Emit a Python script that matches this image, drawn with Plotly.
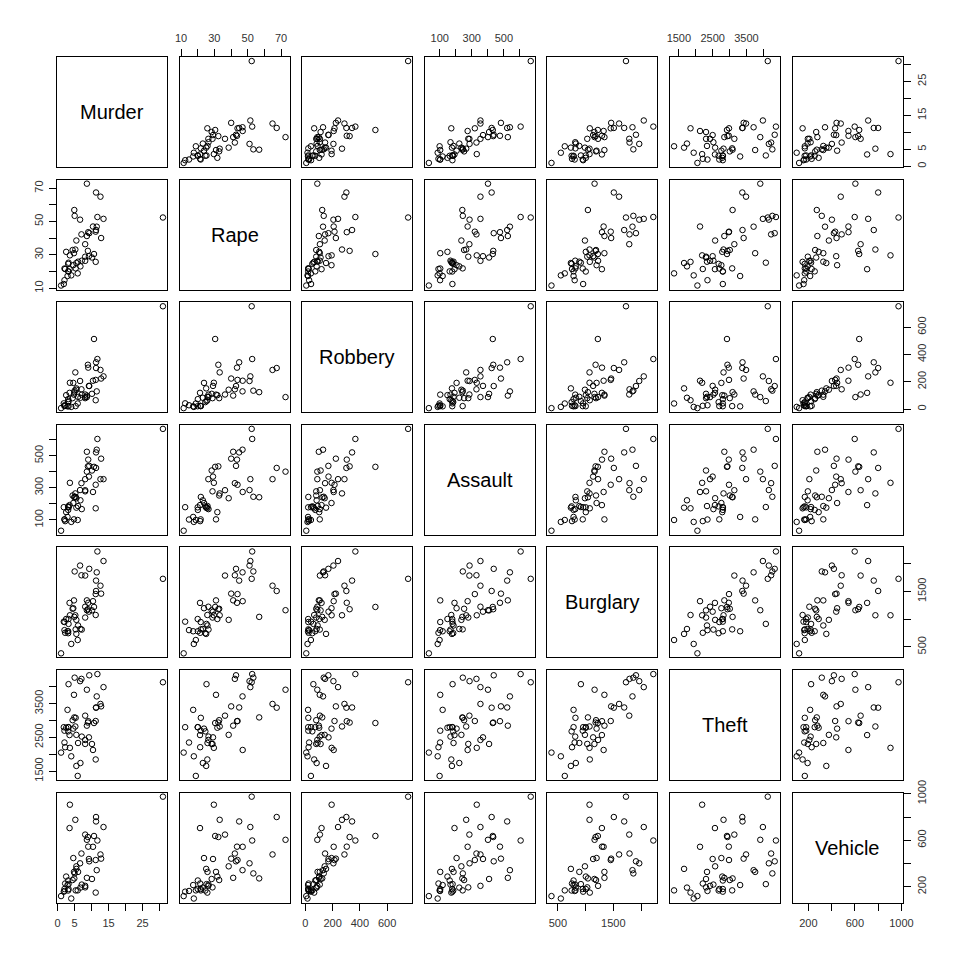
import plotly.graph_objects as go

names = ["Murder", "Rape", "Robbery", "Assault", "Burglary", "Theft", "Vehicle"]

states = ["ME", "NH", "VT", "MA", "RI", "CT", "NY", "NJ", "PA", "OH", "IN", "IL", "MI",
          "WI", "MN", "IA", "MO", "ND", "SD", "NE", "KS", "DE", "MD", "DC", "VA", "WV",
          "NC", "SC", "GA", "FL", "KY", "TN", "AL", "MS", "AR", "LA", "OK", "TX", "MT",
          "ID", "WY", "CO", "NM", "AZ", "UT", "NV", "WA", "OR", "CA", "AK", "HI"]

murder = [2.0, 2.2, 2.0, 3.6, 3.5, 4.6, 10.7, 5.2, 5.5, 5.5, 6.0, 8.9, 11.3,
          3.1, 2.5, 1.8, 9.2, 1.0, 4.0, 3.1, 4.4, 4.9, 9.0, 31.0, 7.1, 5.9,
          8.1, 8.6, 11.2, 11.7, 6.7, 10.4, 10.1, 11.2, 8.1, 12.8, 8.1, 13.5, 2.9,
          3.2, 5.3, 7.0, 11.5, 9.3, 3.2, 12.6, 5.0, 6.6, 11.3, 8.6, 4.8]
rape = [14.8, 21.5, 21.8, 29.7, 21.4, 23.8, 30.5, 33.2, 25.1, 38.6, 25.9, 32.4, 67.4,
        20.1, 31.8, 12.5, 29.2, 11.6, 17.7, 24.6, 32.9, 56.9, 43.6, 52.4, 26.5, 18.9,
        26.4, 41.3, 43.9, 52.7, 23.1, 47.0, 28.4, 25.8, 28.9, 40.1, 36.4, 51.6, 17.3,
        20.0, 21.9, 42.3, 46.9, 43.0, 25.3, 64.9, 53.4, 51.1, 44.9, 72.7, 31.0]
robbery = [28, 24, 22, 193, 119, 192, 514, 269, 152, 142, 90, 325, 301,
           73, 102, 42, 170, 7, 16, 51, 80, 124, 304, 754, 106, 41,
           88, 99, 214, 367, 83, 208, 112, 65, 80, 224, 107, 240, 20,
           21, 22, 145, 130, 169, 59, 287, 135, 206, 343, 88, 106]
assault = [102, 92, 103, 331, 192, 205, 431, 265, 176, 235, 186, 434, 424,
           162, 148, 179, 370, 32, 87, 184, 252, 241, 476, 668, 167, 99,
           354, 525, 319, 605, 222, 274, 408, 172, 278, 482, 285, 354, 118,
           178, 243, 329, 538, 437, 180, 354, 244, 286, 521, 401, 103]
burglary = [803, 755, 949, 1071, 1294, 1198, 1221, 1071, 735, 988, 887, 1180, 1509,
            783, 1004, 956, 1136, 385, 554, 748, 1188, 1042, 1296, 1728, 813, 625,
            1225, 1340, 1453, 2221, 824, 1325, 1159, 1076, 1030, 1461, 1787, 2049, 783,
            1003, 817, 1792, 1845, 1908, 915, 1604, 1861, 1967, 1696, 1162, 1339]
theft = [2347, 2208, 2697, 2189, 2568, 2758, 2924, 2822, 1654, 2574, 2333, 2938, 3378,
         2802, 2785, 2801, 2500, 2049, 1939, 2677, 3008, 3090, 2978, 4131, 2522, 1358,
         2423, 2846, 2984, 4373, 1740, 2126, 2304, 1845, 2305, 3417, 3142, 3987, 3314,
         2800, 3078, 4231, 3712, 4337, 4074, 3489, 4267, 4163, 3384, 3910, 3759]
vehicle = [164, 228, 181, 906, 705, 447, 637, 776, 354, 376, 328, 628, 800,
           254, 288, 158, 439, 120, 99, 168, 258, 272, 545, 975, 219, 169,
           208, 277, 430, 598, 193, 544, 267, 150, 195, 442, 649, 714, 215,
           181, 169, 486, 343, 419, 223, 478, 315, 402, 762, 604, 328]

columns = [murder, rape, robbery, assault, burglary, theft, vehicle]

tick_vals = [
    [0, 5, 10, 15, 20, 25, 30],
    [10, 20, 30, 40, 50, 60, 70],
    [0, 200, 400, 600],
    [100, 200, 300, 400, 500, 600],
    [500, 1000, 1500, 2000],
    [1500, 2000, 2500, 3000, 3500, 4000],
    [200, 400, 600, 800, 1000],
]
tick_text = [
    ["0", "5", "", "15", "", "25", ""],
    ["10", "", "30", "", "50", "", "70"],
    ["0", "200", "400", "600"],
    ["100", "", "300", "", "500", ""],
    ["500", "", "1500", ""],
    ["1500", "", "2500", "", "3500", ""],
    ["200", "", "600", "", "1000"],
]

# the page body has an 8px margin, so the figure is 952px and starts at (8, 8)
W = 952
OFFSET = 8
LEFT0 = 57.0 - OFFSET
STEP = 122.6
SIZE = 110.0
FONT = "Liberation Sans, Arial, Helvetica, sans-serif"
n = len(names)


def xdom(j):
    a = LEFT0 + j * STEP
    return [a / W, (a + SIZE) / W]


def ydom(i):
    top = LEFT0 + i * STEP
    return [1 - (top + SIZE) / W, 1 - top / W]


def rng(v):
    lo, hi = min(v), max(v)
    d = (hi - lo) * 0.04
    return [lo - d, hi + d]


fig = go.Figure()
layout = {}
annotations = []

for i in range(n):
    for j in range(n):
        k = i * n + j + 1
        xa = "xaxis" if k == 1 else f"xaxis{k}"
        ya = "yaxis" if k == 1 else f"yaxis{k}"
        xr = "x" if k == 1 else f"x{k}"
        yr = "y" if k == 1 else f"y{k}"

        xcfg = dict(domain=xdom(j), anchor=yr, range=rng(columns[j]),
                    showgrid=False, zeroline=False, showline=True, mirror=True,
                    linecolor="black", linewidth=1, ticks="", showticklabels=False,
                    tickvals=tick_vals[j], ticktext=tick_text[j],
                    tickfont=dict(family=FONT, size=11, color="#333"),
                    ticklen=7, tickcolor="black", tickwidth=1, fixedrange=True,
                    automargin=False)
        ycfg = dict(domain=ydom(i), anchor=xr, range=rng(columns[i]),
                    showgrid=False, zeroline=False, showline=True, mirror=True,
                    linecolor="black", linewidth=1, ticks="", showticklabels=False,
                    tickvals=tick_vals[i], ticktext=tick_text[i],
                    tickfont=dict(family=FONT, size=11, color="#333"),
                    ticklen=7, tickcolor="black", tickwidth=1, tickangle=-90,
                    fixedrange=True, automargin=False)
        if i == n - 1 and j % 2 == 0:
            xcfg.update(ticks="outside", showticklabels=True, side="bottom",
                        ticklabelstandoff=3)
        if i == 0 and j % 2 == 1:
            xcfg.update(ticks="outside", showticklabels=True, side="top",
                        ticklabelstandoff=3)
        if j == 0 and i % 2 == 1:
            ycfg.update(ticks="outside", showticklabels=True, side="left",
                        ticklabelstandoff=2)
        if j == n - 1 and i % 2 == 0:
            ycfg.update(ticks="outside", showticklabels=True, side="right",
                        ticklabelstandoff=2)
        layout[xa] = xcfg
        layout[ya] = ycfg

        if i == j:
            annotations.append(dict(text=names[i], x=0.5, y=0.5,
                                    xref=f"{xr} domain", yref=f"{yr} domain",
                                    showarrow=False,
                                    font=dict(family=FONT, size=20, color="black")))
            fig.add_trace(go.Scatter(x=[None], y=[None], xaxis=xr, yaxis=yr,
                                     mode="markers", showlegend=False,
                                     hoverinfo="skip"))
        else:
            fig.add_trace(go.Scatter(
                x=columns[j], y=columns[i], xaxis=xr, yaxis=yr,
                mode="markers", showlegend=False, text=states,
                marker=dict(symbol="circle-open", size=5.5, color="black",
                            line=dict(width=1, color="black")),
            ))

fig.update_layout(**layout)
fig.update_layout(width=W, height=W, autosize=False,
                  margin=dict(l=0, r=0, t=0, b=0, autoexpand=False),
                  paper_bgcolor="white", plot_bgcolor="white",
                  annotations=annotations, showlegend=False)

fig.write_html("out.html")
